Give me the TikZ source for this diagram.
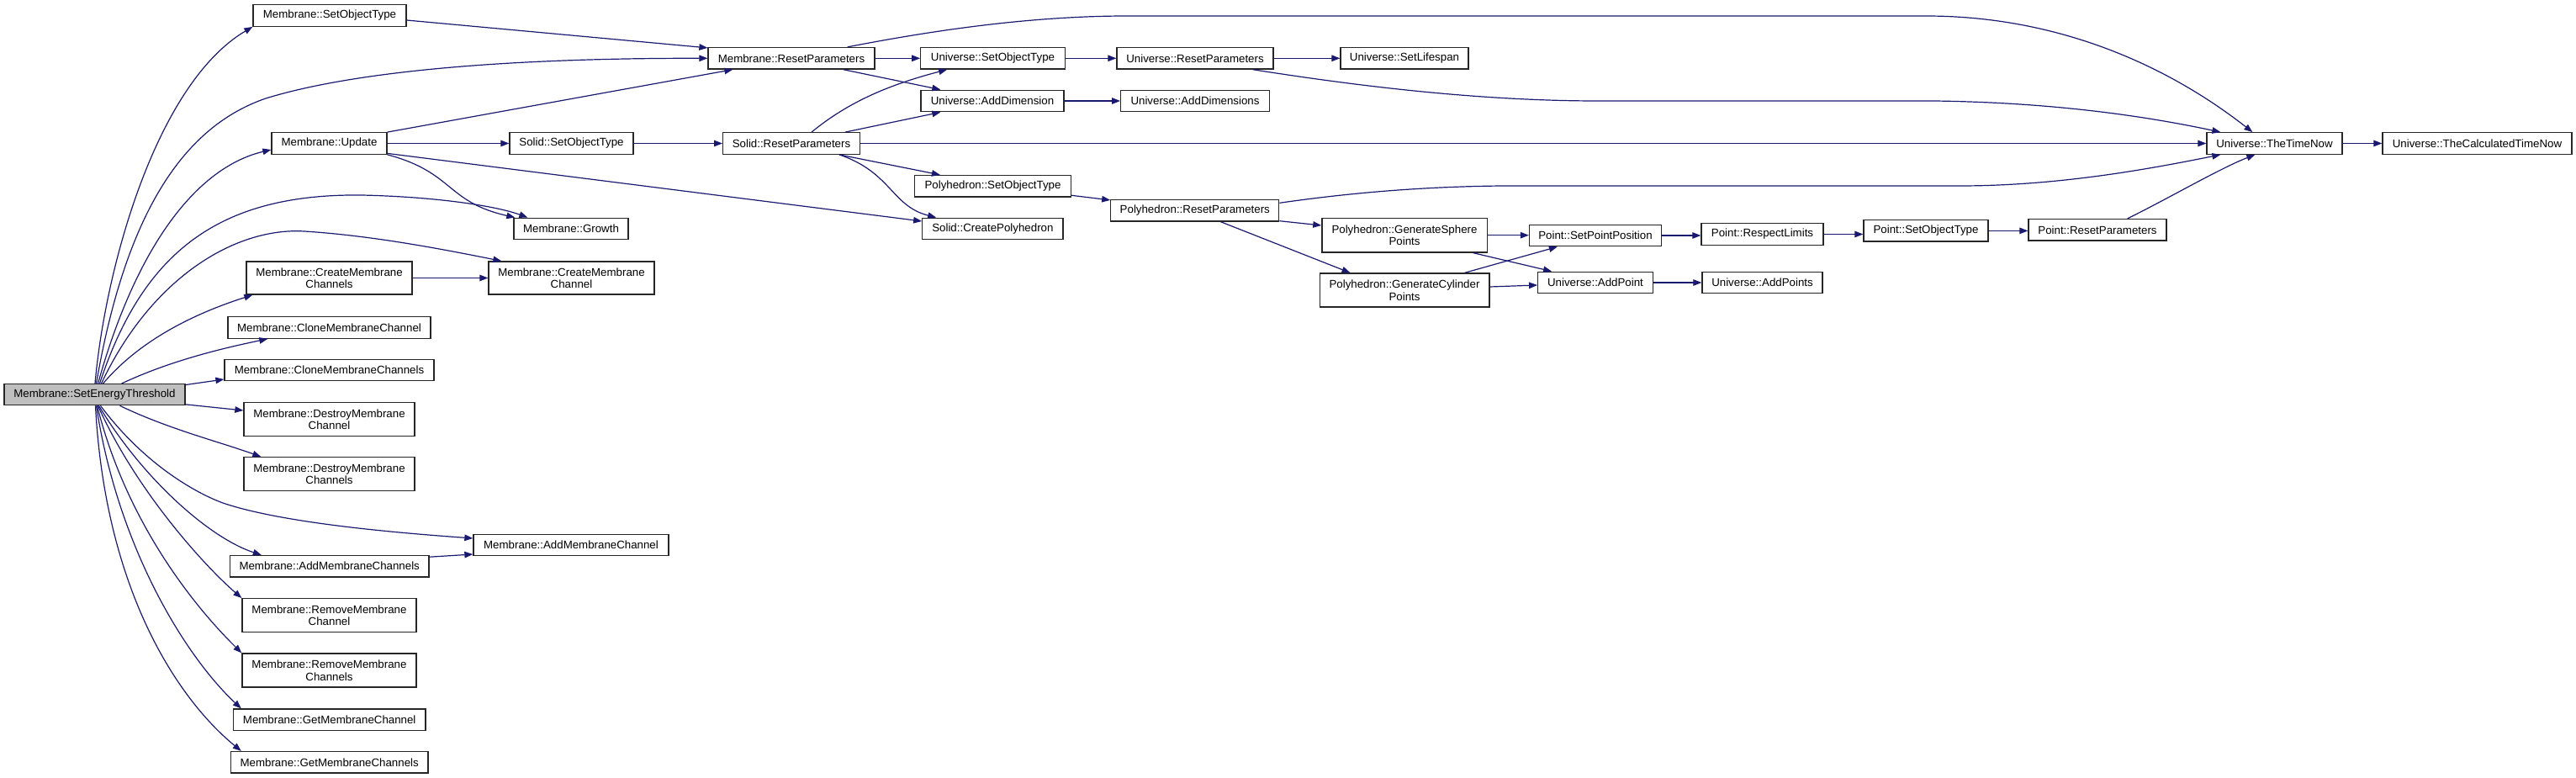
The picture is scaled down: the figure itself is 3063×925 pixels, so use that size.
\documentclass[tikz,border=0pt]{standalone}
\usepackage{fontspec}
\setmainfont{Liberation Sans}
\usetikzlibrary{arrows.meta}
\definecolor{edgeblue}{HTML}{191970}
\definecolor{rootgray}{HTML}{BFBFBF}
\begin{document}
\begin{tikzpicture}[x=1pt,y=-1pt,
  nd/.style={draw=black!85, line width=1.3pt, fill=white, rectangle, inner sep=0pt, align=center, minimum height=25.5pt, font=\fontsize{13.3}{14.5}\selectfont},
  nd2/.style={nd, minimum height=40pt},
  edge/.style={draw=edgeblue, line width=1.2pt, -{Triangle[length=10pt,width=7.5pt]}}
]
\useasboundingbox (0,0) rectangle (3063,925);

% ---- nodes ----
\node[nd, fill=rootgray, minimum width=215pt, minimum height=25pt] (set) at (112.5,469.2) {Membrane::SetEnergyThreshold};
\node[nd, minimum width=182pt] (msot) at (392,18.5) {Membrane::SetObjectType};
\node[nd, minimum width=198pt] (mrp) at (941,69.3) {Membrane::ResetParameters};
\node[nd, minimum width=137pt] (mup) at (391.5,170.5) {Membrane::Update};
\node[nd, minimum width=147pt] (ssot) at (679.5,170.5) {Solid::SetObjectType};
\node[nd, minimum width=136pt] (mgr) at (679,272) {Membrane::Growth};
\node[nd2, minimum width=197pt, minimum height=39pt] (mcmc) at (679.5,330.5) {Membrane::CreateMembrane\\Channel};
\node[nd2, minimum width=197pt, minimum height=39pt] (mcmcs) at (391.5,330.5) {Membrane::CreateMembrane\\Channels};
\node[nd, minimum width=241pt] (mcl) at (391.5,389.5) {Membrane::CloneMembraneChannel};
\node[nd, minimum width=249pt] (mcls) at (391.5,440) {Membrane::CloneMembraneChannels};
\node[nd2, minimum width=203pt] (mdc) at (391.5,498.5) {Membrane::DestroyMembrane\\Channel};
\node[nd2, minimum width=203pt] (mdcs) at (391.5,563.7) {Membrane::DestroyMembrane\\Channels};
\node[nd, minimum width=232pt] (mac) at (679,648) {Membrane::AddMembraneChannel};
\node[nd, minimum width=236.5pt] (macs) at (391.7,673.2) {Membrane::AddMembraneChannels};
\node[nd2, minimum width=207pt] (mrc) at (391.5,731.7) {Membrane::RemoveMembrane\\Channel};
\node[nd2, minimum width=207pt] (mrcs) at (391.5,797) {Membrane::RemoveMembrane\\Channels};
\node[nd, minimum width=228.5pt] (mgc) at (391.7,855.8) {Membrane::GetMembraneChannel};
\node[nd, minimum width=234.5pt] (mgcs) at (391.7,906.3) {Membrane::GetMembraneChannels};

\node[nd, minimum width=171.4pt] (usot) at (1180.5,69.3) {Universe::SetObjectType};
\node[nd, minimum width=186pt] (urp) at (1421,69.3) {Universe::ResetParameters};
\node[nd, minimum width=170pt] (uad) at (1180,120) {Universe::AddDimension};
\node[nd, minimum width=176.6pt] (uads) at (1421,120) {Universe::AddDimensions};
\node[nd, minimum width=162.7pt] (srp) at (941,170.5) {Solid::ResetParameters};
\node[nd, minimum width=185.8pt] (psot) at (1180.5,221.3) {Polyhedron::SetObjectType};
\node[nd, minimum width=167.2pt] (scp) at (1180.4,272) {Solid::CreatePolyhedron};
\node[nd, minimum width=200pt] (prp) at (1420.8,250.3) {Polyhedron::ResetParameters};
\node[nd, minimum width=152pt] (usl) at (1670,69.3) {Universe::SetLifespan};
\node[nd2, minimum width=196.3pt, minimum height=40.7pt] (pgs) at (1670,279.7) {Polyhedron::GenerateSphere\\Points};
\node[nd2, minimum width=201.7pt] (pgc) at (1670,345) {Polyhedron::GenerateCylinder\\Points};
\node[nd, minimum width=157pt] (ptspp) at (1897,280) {Point::SetPointPosition};
\node[nd, minimum width=136.6pt] (uap) at (1897,336) {Universe::AddPoint};
\node[nd, minimum width=145pt] (ptrl) at (2095.5,278.5) {Point::RespectLimits};
\node[nd, minimum width=143pt] (uaps) at (2095.5,336) {Universe::AddPoints};
\node[nd, minimum width=148pt] (ptsot) at (2290,274.4) {Point::SetObjectType};
\node[nd, minimum width=164pt] (ptrp) at (2494,273.3) {Point::ResetParameters};
\node[nd, minimum width=161pt] (uttn) at (2704.5,170.5) {Universe::TheTimeNow};
\node[nd, minimum width=225pt] (utctn) at (2945.5,170.5) {Universe::TheCalculatedTimeNow};

% ---- edges from root ----
\draw[edge] ([xshift=0.5]set.north) .. controls (125,320) and (185,100) .. (msot.south west);
\draw[edge] ([xshift=2]set.north) .. controls (150,250) and (220,150) .. (316,117) .. controls (420,85) and (600,69) .. (mrp.west);
\draw[edge] ([xshift=4]set.north) .. controls (160,300) and (230,200) .. ([yshift=-7.5]mup.west);
\draw[edge] ([xshift=6]set.north) .. controls (170,300) and (260,230) .. (430,232) .. controls (520,234) and (590,245) .. ([xshift=17]mgr.north west);
\draw[edge] ([xshift=8]set.north) .. controls (180,330) and (280,270) .. (362,275) .. controls (440,280) and (520,295) .. ([xshift=16]mcmc.north west);
\draw[edge] ([xshift=10]set.north) .. controls (170,400) and (240,370) .. ([xshift=8]mcmcs.south west);
\draw[edge] ([xshift=32]set.north) .. controls (200,430) and (260,415) .. ([xshift=48]mcl.south west);
\draw[edge] ([yshift=-1.5]set.north east) -- ([yshift=-11]mcls.west);
\draw[edge] ([yshift=1.5]set.south east) -- ([yshift=10.5]mdc.west);
\draw[edge] ([xshift=30]set.south) .. controls (200,510) and (260,525) .. ([xshift=21]mdcs.north west);
\draw[edge] ([xshift=7]set.south) .. controls (170,550) and (230,585) .. (265,598) .. controls (330,620) and (450,632) .. ([yshift=8]mac.west);
\draw[edge] ([xshift=5]set.south) .. controls (170,570) and (250,640) .. ([xshift=38]macs.north west);
\draw[edge] ([xshift=4]set.south) .. controls (160,580) and (240,670) .. (mrc.north west);
\draw[edge] ([xshift=3]set.south) .. controls (150,620) and (230,720) .. (mrcs.north west);
\draw[edge] ([xshift=2]set.south) .. controls (140,650) and (220,780) .. ([xshift=10]mgc.north west);
\draw[edge] ([xshift=1]set.south) .. controls (125,700) and (210,830) .. ([xshift=13]mgcs.north west);

% ---- other edges ----
\draw[edge] ([yshift=-5.5]msot.east) -- ([yshift=-1]mrp.north west);
\draw[edge] (mup.north east) -- ([xshift=30]mrp.south west);
\draw[edge] (mup.east) -- (ssot.west);
\draw[edge] (mup.south east) .. controls (540,205) and (530,240) .. ([xshift=2]mgr.north west);
\draw[edge] ([yshift=1.5]mup.south east) -- ([yshift=9]scp.west);
\draw[edge] (mcmcs.east) -- (mcmc.west);
\draw[edge] ([yshift=11]macs.east) -- ([yshift=-11]mac.west);

\draw[edge] (mrp.east) -- (usot.west);
\draw[edge] ([xshift=-38]mrp.south east) -- ([xshift=24]uad.north west);
\draw[edge] ([xshift=-33]mrp.north east) .. controls (1100,38) and (1220,19) .. (1340,19) -- (2290,19) .. controls (2450,19) and (2580,80) .. ([xshift=55]uttn.north west);
\draw[edge] (usot.east) -- (urp.west);
\draw[edge] (urp.east) -- (usl.west);
\draw[edge] ([xshift=-25]urp.south east) .. controls (1600,100) and (1750,120) .. (1900,120) -- (2300,120) .. controls (2450,122) and (2560,140) .. ([xshift=17]uttn.north west);
\draw[edge] (uad.east) -- (uads.west);
\draw[edge] (ssot.east) -- (srp.west);
\draw[edge] ([xshift=-58]srp.north east) .. controls (1010,120) and (1060,100) .. ([xshift=32]usot.south west);
\draw[edge] ([xshift=-18]srp.north east) -- ([xshift=24]uad.south west);
\draw[edge] (srp.east) -- (uttn.west);
\draw[edge] ([xshift=-25]srp.south east) -- ([xshift=31]psot.north west);
\draw[edge] ([xshift=-25]srp.south east) .. controls (1060,205) and (1060,245) .. ([xshift=17]scp.north west);
\draw[edge] ([yshift=-11]psot.east) -- ([yshift=-1]prp.north west);
\draw[edge] ([yshift=9]prp.east) .. controls (1600,230) and (1700,220) .. (1820,221) -- (2330,221) .. controls (2450,221) and (2560,200) .. ([xshift=17]uttn.south west);
\draw[edge] ([yshift=1]prp.south east) -- ([yshift=11.7]pgs.west);
\draw[edge] ([xshift=-70]prp.south east) -- ([xshift=37]pgc.north west);
\draw[edge] (pgs.east) -- (pgs.east -| ptspp.west);
\draw[edge] ([xshift=-17]pgs.south east) -- ([xshift=17]uap.north west);
\draw[edge] ([xshift=-30]pgc.north east) -- ([xshift=34]ptspp.south west);
\draw[edge] ([yshift=4]pgc.east) -- ([yshift=-3]uap.west);
\draw[edge] (ptspp.east) -- (ptspp.east -| ptrl.west);
\draw[edge] (uap.east) -- (uaps.west);
\draw[edge] (ptrl.east) -- (ptrl.east -| ptsot.west);
\draw[edge] (ptsot.east) -- (ptsot.east -| ptrp.west);
\draw[edge] ([xshift=-47]ptrp.north east) .. controls (2580,235) and (2640,200) .. ([xshift=58]uttn.south west);
\draw[edge] (uttn.east) -- (utctn.west);
\end{tikzpicture}
\end{document}
